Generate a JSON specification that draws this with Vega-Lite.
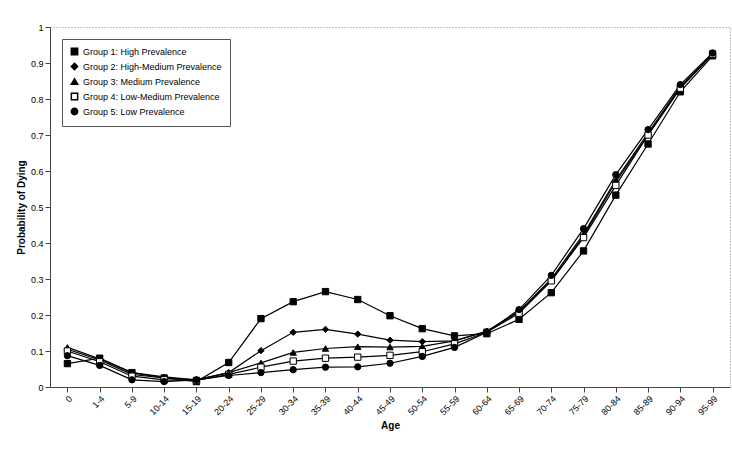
{
"$schema":"https://vega.github.io/schema/vega-lite/v6.json",
"width":680,"height":360,"autosize":{"type":"none"},
"padding":{"left":50,"top":27,"right":2,"bottom":66},
"background":"white",
"config":{"font":"Liberation Sans","view":{"stroke":"#888","strokeDash":[1,2]},"axis":{"labelColor":"black","titleColor":"black","domainColor":"#444","tickColor":"#444","grid":false,"labelFontSize":9,"titleFontSize":10}},
"data":{"values":[
{"g":"Group 1: High Prevalence","a":"0","v":0.065},{"g":"Group 1: High Prevalence","a":"1-4","v":0.08},{"g":"Group 1: High Prevalence","a":"5-9","v":0.04},{"g":"Group 1: High Prevalence","a":"10-14","v":0.025},{"g":"Group 1: High Prevalence","a":"15-19","v":0.015},{"g":"Group 1: High Prevalence","a":"20-24","v":0.068},{"g":"Group 1: High Prevalence","a":"25-29","v":0.19},{"g":"Group 1: High Prevalence","a":"30-34","v":0.237},{"g":"Group 1: High Prevalence","a":"35-39","v":0.265},{"g":"Group 1: High Prevalence","a":"40-44","v":0.243},{"g":"Group 1: High Prevalence","a":"45-49","v":0.198},{"g":"Group 1: High Prevalence","a":"50-54","v":0.162},{"g":"Group 1: High Prevalence","a":"55-59","v":0.142},{"g":"Group 1: High Prevalence","a":"60-64","v":0.148},{"g":"Group 1: High Prevalence","a":"65-69","v":0.188},{"g":"Group 1: High Prevalence","a":"70-74","v":0.262},{"g":"Group 1: High Prevalence","a":"75-79","v":0.378},{"g":"Group 1: High Prevalence","a":"80-84","v":0.533},{"g":"Group 1: High Prevalence","a":"85-89","v":0.675},{"g":"Group 1: High Prevalence","a":"90-94","v":0.82},{"g":"Group 1: High Prevalence","a":"95-99","v":0.92},
{"g":"Group 2: High-Medium Prevalence","a":"0","v":0.105},{"g":"Group 2: High-Medium Prevalence","a":"1-4","v":0.075},{"g":"Group 2: High-Medium Prevalence","a":"5-9","v":0.035},{"g":"Group 2: High-Medium Prevalence","a":"10-14","v":0.025},{"g":"Group 2: High-Medium Prevalence","a":"15-19","v":0.02},{"g":"Group 2: High-Medium Prevalence","a":"20-24","v":0.04},{"g":"Group 2: High-Medium Prevalence","a":"25-29","v":0.101},{"g":"Group 2: High-Medium Prevalence","a":"30-34","v":0.152},{"g":"Group 2: High-Medium Prevalence","a":"35-39","v":0.16},{"g":"Group 2: High-Medium Prevalence","a":"40-44","v":0.147},{"g":"Group 2: High-Medium Prevalence","a":"45-49","v":0.13},{"g":"Group 2: High-Medium Prevalence","a":"50-54","v":0.126},{"g":"Group 2: High-Medium Prevalence","a":"55-59","v":0.128},{"g":"Group 2: High-Medium Prevalence","a":"60-64","v":0.155},{"g":"Group 2: High-Medium Prevalence","a":"65-69","v":0.21},{"g":"Group 2: High-Medium Prevalence","a":"70-74","v":0.295},{"g":"Group 2: High-Medium Prevalence","a":"75-79","v":0.42},{"g":"Group 2: High-Medium Prevalence","a":"80-84","v":0.57},{"g":"Group 2: High-Medium Prevalence","a":"85-89","v":0.7},{"g":"Group 2: High-Medium Prevalence","a":"90-94","v":0.83},{"g":"Group 2: High-Medium Prevalence","a":"95-99","v":0.925},
{"g":"Group 3: Medium Prevalence","a":"0","v":0.11},{"g":"Group 3: Medium Prevalence","a":"1-4","v":0.078},{"g":"Group 3: Medium Prevalence","a":"5-9","v":0.04},{"g":"Group 3: Medium Prevalence","a":"10-14","v":0.028},{"g":"Group 3: Medium Prevalence","a":"15-19","v":0.02},{"g":"Group 3: Medium Prevalence","a":"20-24","v":0.04},{"g":"Group 3: Medium Prevalence","a":"25-29","v":0.067},{"g":"Group 3: Medium Prevalence","a":"30-34","v":0.096},{"g":"Group 3: Medium Prevalence","a":"35-39","v":0.107},{"g":"Group 3: Medium Prevalence","a":"40-44","v":0.112},{"g":"Group 3: Medium Prevalence","a":"45-49","v":0.111},{"g":"Group 3: Medium Prevalence","a":"50-54","v":0.113},{"g":"Group 3: Medium Prevalence","a":"55-59","v":0.128},{"g":"Group 3: Medium Prevalence","a":"60-64","v":0.155},{"g":"Group 3: Medium Prevalence","a":"65-69","v":0.21},{"g":"Group 3: Medium Prevalence","a":"70-74","v":0.3},{"g":"Group 3: Medium Prevalence","a":"75-79","v":0.425},{"g":"Group 3: Medium Prevalence","a":"80-84","v":0.575},{"g":"Group 3: Medium Prevalence","a":"85-89","v":0.705},{"g":"Group 3: Medium Prevalence","a":"90-94","v":0.835},{"g":"Group 3: Medium Prevalence","a":"95-99","v":0.925},
{"g":"Group 4: Low-Medium Prevalence","a":"0","v":0.1},{"g":"Group 4: Low-Medium Prevalence","a":"1-4","v":0.07},{"g":"Group 4: Low-Medium Prevalence","a":"5-9","v":0.03},{"g":"Group 4: Low-Medium Prevalence","a":"10-14","v":0.02},{"g":"Group 4: Low-Medium Prevalence","a":"15-19","v":0.018},{"g":"Group 4: Low-Medium Prevalence","a":"20-24","v":0.035},{"g":"Group 4: Low-Medium Prevalence","a":"25-29","v":0.055},{"g":"Group 4: Low-Medium Prevalence","a":"30-34","v":0.072},{"g":"Group 4: Low-Medium Prevalence","a":"35-39","v":0.08},{"g":"Group 4: Low-Medium Prevalence","a":"40-44","v":0.083},{"g":"Group 4: Low-Medium Prevalence","a":"45-49","v":0.088},{"g":"Group 4: Low-Medium Prevalence","a":"50-54","v":0.098},{"g":"Group 4: Low-Medium Prevalence","a":"55-59","v":0.12},{"g":"Group 4: Low-Medium Prevalence","a":"60-64","v":0.152},{"g":"Group 4: Low-Medium Prevalence","a":"65-69","v":0.205},{"g":"Group 4: Low-Medium Prevalence","a":"70-74","v":0.295},{"g":"Group 4: Low-Medium Prevalence","a":"75-79","v":0.415},{"g":"Group 4: Low-Medium Prevalence","a":"80-84","v":0.56},{"g":"Group 4: Low-Medium Prevalence","a":"85-89","v":0.7},{"g":"Group 4: Low-Medium Prevalence","a":"90-94","v":0.83},{"g":"Group 4: Low-Medium Prevalence","a":"95-99","v":0.925},
{"g":"Group 5: Low Prevalence","a":"0","v":0.087},{"g":"Group 5: Low Prevalence","a":"1-4","v":0.06},{"g":"Group 5: Low Prevalence","a":"5-9","v":0.02},{"g":"Group 5: Low Prevalence","a":"10-14","v":0.015},{"g":"Group 5: Low Prevalence","a":"15-19","v":0.02},{"g":"Group 5: Low Prevalence","a":"20-24","v":0.032},{"g":"Group 5: Low Prevalence","a":"25-29","v":0.04},{"g":"Group 5: Low Prevalence","a":"30-34","v":0.048},{"g":"Group 5: Low Prevalence","a":"35-39","v":0.055},{"g":"Group 5: Low Prevalence","a":"40-44","v":0.056},{"g":"Group 5: Low Prevalence","a":"45-49","v":0.066},{"g":"Group 5: Low Prevalence","a":"50-54","v":0.085},{"g":"Group 5: Low Prevalence","a":"55-59","v":0.11},{"g":"Group 5: Low Prevalence","a":"60-64","v":0.152},{"g":"Group 5: Low Prevalence","a":"65-69","v":0.215},{"g":"Group 5: Low Prevalence","a":"70-74","v":0.31},{"g":"Group 5: Low Prevalence","a":"75-79","v":0.44},{"g":"Group 5: Low Prevalence","a":"80-84","v":0.59},{"g":"Group 5: Low Prevalence","a":"85-89","v":0.715},{"g":"Group 5: Low Prevalence","a":"90-94","v":0.84},{"g":"Group 5: Low Prevalence","a":"95-99","v":0.928}
]},
"encoding":{
"x":{"field":"a","type":"ordinal","sort":["0","1-4","5-9","10-14","15-19","20-24","25-29","30-34","35-39","40-44","45-49","50-54","55-59","60-64","65-69","70-74","75-79","80-84","85-89","90-94","95-99"],"scale":{"type":"point","padding":0.54},"axis":{"title":"Age","labelAngle":-45,"titleFontWeight":"bold"}},
"y":{"field":"v","type":"quantitative","scale":{"domain":[0,1]},"axis":{"title":"Probability of Dying","tickCount":10,"format":".1~f","titleFontWeight":"bold"}}},
"layer":[
{"mark":{"type":"line","color":"black","strokeWidth":1.2},"encoding":{"detail":{"field":"g"}}},
{"mark":{"type":"point","opacity":1,"size":40,"stroke":"black","strokeWidth":1},
"encoding":{
"shape":{"field":"g","type":"nominal","scale":{"range":["square","diamond","triangle-up","square","circle"]},"legend":{"title":null,"orient":"top-left","offset":12,"labelFontSize":9,"symbolSize":40,"strokeColor":"#555","padding":8,"labelColor":"black","encode":{"symbols":{"update":{"stroke":{"value":"black"},"strokeWidth":{"value":1}}}}}},
"fill":{"field":"g","type":"nominal","scale":{"range":["black","black","black","white","black"]},"legend":{"title":null,"orient":"top-left","offset":12,"labelFontSize":9,"symbolSize":40,"strokeColor":"#555","padding":8,"labelColor":"black","encode":{"symbols":{"update":{"stroke":{"value":"black"},"strokeWidth":{"value":1}}}}}}}}
]
}
